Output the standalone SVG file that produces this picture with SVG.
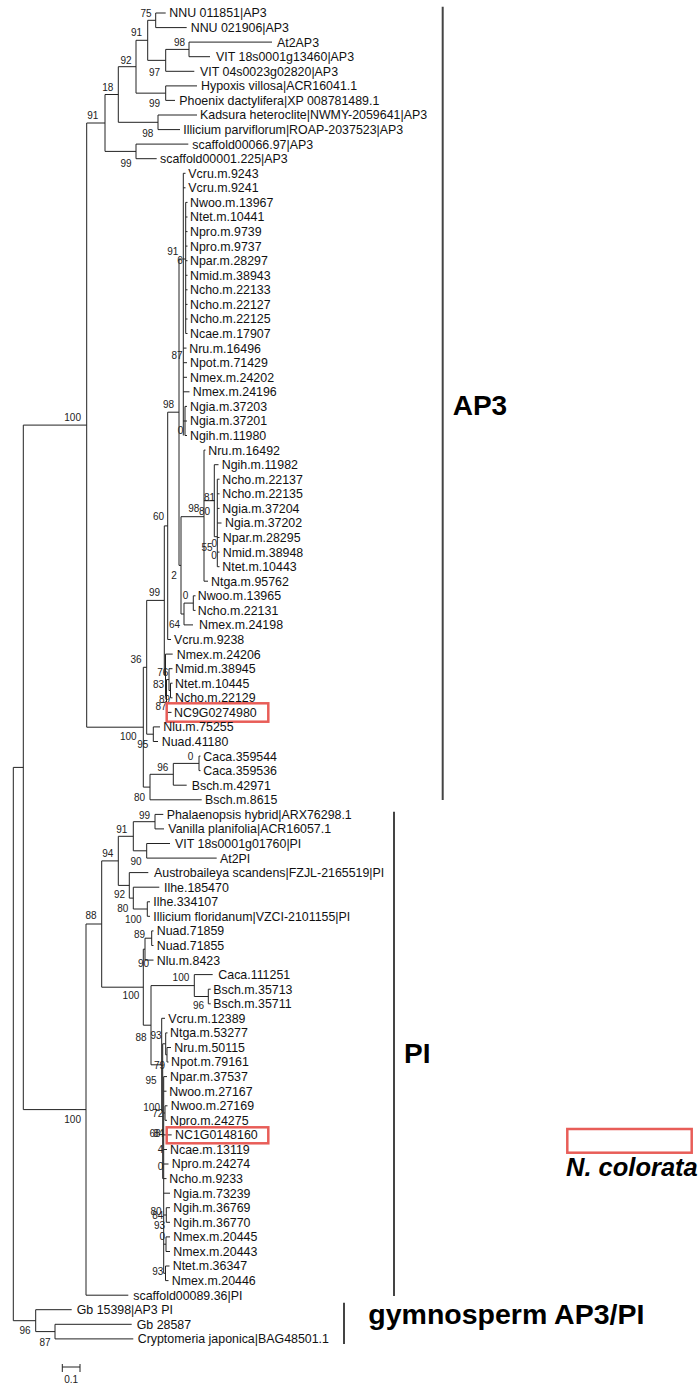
<svg xmlns="http://www.w3.org/2000/svg" width="698" height="1385" viewBox="0 0 698 1385">
<style>
.t{font-family:"Liberation Sans",Arial,sans-serif;font-size:12.4px;fill:#111}
.b{font-family:"Liberation Sans",Arial,sans-serif;font-size:10px;fill:#222;text-anchor:end}
.br{fill:none;stroke:#222;stroke-width:1}
.bar{stroke:#444;stroke-width:2}
.cl{font-family:"Liberation Sans",Arial,sans-serif;font-size:28px;font-weight:bold;fill:#000}
.hl{fill:none;stroke:#e85d58;stroke-width:2.5}
</style>
<rect width="698" height="1385" fill="#fff"/>
<g id="connectors">
<path class="br" d="M147.7 20.3H155.7M155.7 13V27.6M155.7 13H165.7M155.7 27.6H186.7M165.7 49.4H189M189 42.1V56.7M189 42.1H272M189 56.7H210M147.7 60.35H165.7M165.7 49.4V71.3M165.7 71.3H194.3M136 40.3H147.7M147.7 20.3V60.35M136 93.15H165.7M165.7 85.9V100.4M165.7 85.9H197M165.7 100.4H175M118.3 66.7H136M136 40.3V93.15M118.3 122.3H158M158 115V129.6M158 115H197M158 129.6H180M105 94.5H118.3M118.3 66.7V122.3M105 151.4H136M136 144.1V158.7M136 144.1H188.3M136 158.7H156.7M86.7 123H105M105 94.5V151.4M23.3 425.1H86.7M86.7 123V727.2"/>
<path class="br" d="M183.3 173.3V435.5M183.3 173.3H185.5M183.3 187.8H185.5M179 259H185.7M185.7 202.4V333.5M185.7 202.4H187.5M185.7 217H187.5M185.7 231.6H187.5M185.7 246.1H187.5M185.7 260.7H187.5M185.7 275.3H187.5M185.7 289.8H187.5M185.7 304.4H187.5M185.7 319H187.5M185.7 333.5H187.5M183.3 348.1H186.5M183.3 362.7H187M183.3 377.3H187M183.3 391.8H189.5M183.3 421H185M185 406.4V435.5M185 406.4H187M185 421H187M185 435.5H187"/>
<path class="br" d="M167.7 412.2H179M179 259V565.4M179 565.4H181M181 516.7V614M181 516.7H204M204 450.1V581.2M204 450.1H205.5M204 581.2H208M204 500.7H214.3M214.3 464.7V536.7M214.3 464.7H218.5M214.3 536.7H217.3M217.3 479.2V566.7M217.3 479.2H219.5M217.3 493.8H219.5M217.3 508.4H219.5M217.3 523H221.5M217.3 537.5H219.5M217.3 552.1H219.5M217.3 566.7H219.5M181 614H184M184 603.1V624.9M184 624.9H193M184 603.1H193.3M193.3 595.8V610.4M193.3 595.8H195.5M193.3 610.4H195.5M164.3 525.9H167.7M167.7 412.2V639.5M167.7 639.5H171M146.7 600.4H164.3M164.3 525.9V675M164.3 675H165.5M165.5 654.1V696M165.5 654.1H172.7M165.5 696H166.5M166.5 679.6V712.4M166.5 712.4H171.5M166.5 679.6H169M169 668.7V690.5M169 668.7H172.5M169 690.5H170.5M170.5 683.2V697.8M170.5 683.2H172.5M170.5 697.8H172.5M146.7 734.2H153.3M153.3 726.9V741.5M153.3 726.9H160M153.3 741.5H158M143.3 667.3H146.7M146.7 600.4V734.2M173.3 763.4H199M199 756.1V770.6M199 756.1H200.5M199 770.6H200.5M150 774.3H173.3M173.3 763.4V785.2M173.3 785.2H186.7M143.3 787.1H150M150 774.3V799.8M150 799.8H201.7M86.7 727.2H143.3M143.3 667.3V787.1"/>
<path class="br" d="M133.3 821.7H155M155 814.4V828.9M155 814.4H163.3M155 828.9H164M133.3 850.8H146.7M146.7 843.5V858.1M146.7 843.5H170M146.7 858.1H216.7M118.3 836.3H133.3M133.3 821.7V850.8M133.3 909H147.3M147.3 901.8V916.3M147.3 901.8H150M147.3 916.3H150M129.3 898.1H133.3M133.3 887.2V909M133.3 887.2H159.3M118.3 885.4H129.3M129.3 872.6V898.1M129.3 872.6H148.3M101.7 860.9H118.3M118.3 836.3V885.4M145 938.2H151.7M151.7 930.9V945.5M151.7 930.9H153.5M151.7 945.5H153.5M143.3 949.2H145M145 938.2V960.1M145 960.1H153.5M194.3 996.5H208.3M208.3 989.2V1003.8M208.3 989.2H210.7M208.3 1003.8H210.7M151 985.6H194.3M194.3 974.6V996.5M194.3 974.6H212.7"/>
<path class="br" d="M165.7 1054.8H167M167 1047.5V1062M167 1047.5H171M167 1062H168.5M162.7 1043.8H165.7M165.7 1032.9V1054.8M165.7 1032.9H167.5M162.7 1178.6H163.7M163.7 1076.6V1273.3M163.7 1076.6H167M163.7 1091.2H166.5M163.7 1113H165M165 1105.8V1120.3M165 1105.8H167.5M165 1120.3H167M163.7 1134.9H171.7M163.7 1149.5H167M163.7 1164H168.5M163.7 1178.6H166.5M163.7 1193.2H170M163.7 1215H166.3M166.3 1207.7V1222.3M166.3 1207.7H170M166.3 1222.3H170M163.7 1244.2H166M166 1236.9V1251.5M166 1236.9H170M166 1251.5H170M163.7 1273.3H165.5M165.5 1266V1280.6M165.5 1266H169.5M165.5 1280.6H168.5M161.7 1111.2H162.7M162.7 1043.8V1178.6M151 1064.8H161.7M161.7 1018.3V1111.2M161.7 1018.3H165M143.3 1025.2H151M151 985.6V1064.8M101.7 987.2H143.3M143.3 949.2V1025.2M86 924H101.7M101.7 860.9V987.2M23.3 1109.6H86M86 924V1295.2M86 1295.2H128.3M13.3 767.4H23.3M23.3 425.1V1109.6M13.3 1320.7H35.7M35.7 1309.7V1331.6M35.7 1309.7H71.7M35.7 1331.6H55M55 1324.3V1338.9M55 1324.3H131.7M55 1338.9H133.3M13.3 767.4V1320.7"/>
</g>
<g id="bootstrap">
<text class="b" x="151.7" y="16.9">75</text><text class="b" x="142" y="35.9">91</text><text class="b" x="185" y="45.6">98</text><text class="b" x="160" y="75.6">97</text><text class="b" x="131.7" y="63.6">92</text><text class="b" x="160" y="106.9">99</text><text class="b" x="113.3" y="90.9">18</text><text class="b" x="153.3" y="136.9">98</text><text class="b" x="98.3" y="118.6">91</text><text class="b" x="131.7" y="166.9">99</text><text class="b" x="81" y="420.9">100</text>
<text class="b" x="178.3" y="254.6">91</text><text class="b" x="182.7" y="263.6">6</text><text class="b" x="182.7" y="358.6">87</text><text class="b" x="174" y="407.9">98</text><text class="b" x="183.3" y="434.3">0</text><text class="b" x="215" y="501.3">81</text><text class="b" x="199.3" y="511.9">98</text><text class="b" x="210" y="515.3">80</text><text class="b" x="164" y="520.3">60</text><text class="b" x="217" y="546.9">0</text><text class="b" x="212.7" y="550.9">55</text><text class="b" x="216.7" y="558.6">0</text><text class="b" x="176.7" y="579.3">2</text><text class="b" x="160" y="595.9">99</text><text class="b" x="188.3" y="598.6">0</text><text class="b" x="180" y="627.9">64</text><text class="b" x="141.7" y="662.6">36</text><text class="b" x="168.3" y="675.9">76</text><text class="b" x="164" y="687.6">83</text><text class="b" x="170" y="702.9">89</text><text class="b" x="166.7" y="709.6">87</text><text class="b" x="136.7" y="740.3">100</text><text class="b" x="148.3" y="747.9">95</text><text class="b" x="193.3" y="759.6">0</text><text class="b" x="168.3" y="770.9">96</text><text class="b" x="145" y="800.9">80</text>
<text class="b" x="150" y="818.6">99</text><text class="b" x="127.3" y="832.6">91</text><text class="b" x="113.3" y="856.9">94</text><text class="b" x="141.7" y="864.6">90</text><text class="b" x="125" y="897.9">92</text><text class="b" x="128.3" y="911.9">80</text><text class="b" x="141.7" y="922.9">100</text><text class="b" x="96.7" y="918.6">88</text><text class="b" x="145" y="937.6">89</text><text class="b" x="149" y="966.9">90</text><text class="b" x="189.3" y="980.9">100</text><text class="b" x="139.3" y="999.3">100</text><text class="b" x="204" y="1009.3">96</text><text class="b" x="146.7" y="1041.3">88</text><text class="b" x="161.7" y="1039.3">93</text><text class="b" x="165" y="1068.6">79</text><text class="b" x="156.7" y="1083.6">95</text><text class="b" x="160" y="1110.9">100</text><text class="b" x="163.3" y="1116.9">72</text><text class="b" x="160.5" y="1136.9">68</text><text class="b" x="164" y="1136.9">84</text><text class="b" x="81" y="1122.6">100</text><text class="b" x="163.3" y="1152.9">4</text><text class="b" x="163.3" y="1170.3">0</text><text class="b" x="161.7" y="1214.6">80</text><text class="b" x="163.3" y="1218.6">84</text><text class="b" x="165" y="1228.6">93</text><text class="b" x="165" y="1239.6">0</text><text class="b" x="163.3" y="1275.3">93</text><text class="b" x="30.7" y="1334.3">96</text><text class="b" x="50.7" y="1346.3">87</text>
</g>
<g id="n00"><text class="t" x="169.3" y="17.4">NNU 011851|AP3</text></g>
<g id="n01"><text class="t" x="190.7" y="32">NNU 021906|AP3</text></g>
<g id="n02"><text class="t" x="277" y="46.5">At2AP3</text></g>
<g id="n03"><text class="t" x="216" y="61.1">VIT 18s0001g13460|AP3</text></g>
<g id="n04"><text class="t" x="200" y="75.7">VIT 04s0023g02820|AP3</text></g>
<g id="n05"><text class="t" x="201" y="90.3">Hypoxis villosa|ACR16041.1</text></g>
<g id="n06"><text class="t" x="179.3" y="104.8">Phoenix dactylifera|XP 008781489.1</text></g>
<g id="n07"><text class="t" x="200" y="119.4">Kadsura heteroclite|NWMY-2059641|AP3</text></g>
<g id="n08"><text class="t" x="183.3" y="134">Illicium parviflorum|ROAP-2037523|AP3</text></g>
<g id="n09"><text class="t" x="192.3" y="148.5">scaffold00066.97|AP3</text></g>
<g id="n10"><text class="t" x="160" y="163.1">scaffold00001.225|AP3</text></g>
<g id="n11"><text class="t" x="188.3" y="177.7">Vcru.m.9243</text></g>
<g id="n12"><text class="t" x="188.3" y="192.2">Vcru.m.9241</text></g>
<g id="n13"><text class="t" x="190" y="206.8">Nwoo.m.13967</text></g>
<g id="n14"><text class="t" x="190" y="221.4">Ntet.m.10441</text></g>
<g id="n15"><text class="t" x="190" y="236">Npro.m.9739</text></g>
<g id="n16"><text class="t" x="190" y="250.5">Npro.m.9737</text></g>
<g id="n17"><text class="t" x="190" y="265.1">Npar.m.28297</text></g>
<g id="n18"><text class="t" x="190" y="279.7">Nmid.m.38943</text></g>
<g id="n19"><text class="t" x="190" y="294.2">Ncho.m.22133</text></g>
<g id="n20"><text class="t" x="190" y="308.8">Ncho.m.22127</text></g>
<g id="n21"><text class="t" x="190" y="323.4">Ncho.m.22125</text></g>
<g id="n22"><text class="t" x="190" y="337.9">Ncae.m.17907</text></g>
<g id="n23"><text class="t" x="189.3" y="352.5">Nru.m.16496</text></g>
<g id="n24"><text class="t" x="190" y="367.1">Npot.m.71429</text></g>
<g id="n25"><text class="t" x="190" y="381.7">Nmex.m.24202</text></g>
<g id="n26"><text class="t" x="192.7" y="396.2">Nmex.m.24196</text></g>
<g id="n27"><text class="t" x="190" y="410.8">Ngia.m.37203</text></g>
<g id="n28"><text class="t" x="190" y="425.4">Ngia.m.37201</text></g>
<g id="n29"><text class="t" x="190" y="439.9">Ngih.m.11980</text></g>
<g id="n30"><text class="t" x="208.3" y="454.5">Nru.m.16492</text></g>
<g id="n31"><text class="t" x="221.7" y="469.1">Ngih.m.11982</text></g>
<g id="n32"><text class="t" x="222.3" y="483.6">Ncho.m.22137</text></g>
<g id="n33"><text class="t" x="222.3" y="498.2">Ncho.m.22135</text></g>
<g id="n34"><text class="t" x="222.3" y="512.8">Ngia.m.37204</text></g>
<g id="n35"><text class="t" x="225" y="527.4">Ngia.m.37202</text></g>
<g id="n36"><text class="t" x="222.7" y="541.9">Npar.m.28295</text></g>
<g id="n37"><text class="t" x="222.7" y="556.5">Nmid.m.38948</text></g>
<g id="n38"><text class="t" x="222.3" y="571.1">Ntet.m.10443</text></g>
<g id="n39"><text class="t" x="211" y="585.6">Ntga.m.95762</text></g>
<g id="n40"><text class="t" x="197.7" y="600.2">Nwoo.m.13965</text></g>
<g id="n41"><text class="t" x="197.7" y="614.8">Ncho.m.22131</text></g>
<g id="n42"><text class="t" x="199" y="629.3">Nmex.m.24198</text></g>
<g id="n43"><text class="t" x="174" y="643.9">Vcru.m.9238</text></g>
<g id="n44"><text class="t" x="176.7" y="658.5">Nmex.m.24206</text></g>
<g id="n45"><text class="t" x="175" y="673.1">Nmid.m.38945</text></g>
<g id="n46"><text class="t" x="175" y="687.6">Ntet.m.10445</text></g>
<g id="n47"><text class="t" x="175" y="702.2">Ncho.m.22129</text></g>
<g id="n48"><rect class="hl" x="166.7" y="703.3" width="101.6" height="18.4"/><text class="t" x="174" y="716.8">NC9G0274980</text></g>
<g id="n49"><text class="t" x="163.3" y="731.3">Nlu.m.75255</text></g>
<g id="n50"><text class="t" x="161.7" y="745.9">Nuad.41180</text></g>
<g id="n51"><text class="t" x="203.3" y="760.5">Caca.359544</text></g>
<g id="n52"><text class="t" x="203.3" y="775">Caca.359536</text></g>
<g id="n53"><text class="t" x="191.7" y="789.6">Bsch.m.42971</text></g>
<g id="n54"><text class="t" x="205" y="804.2">Bsch.m.8615</text></g>
<g id="n55"><text class="t" x="166.7" y="818.8">Phalaenopsis hybrid|ARX76298.1</text></g>
<g id="n56"><text class="t" x="168.3" y="833.3">Vanilla planifolia|ACR16057.1</text></g>
<g id="n57"><text class="t" x="175" y="847.9">VIT 18s0001g01760|PI</text></g>
<g id="n58"><text class="t" x="220" y="862.5">At2PI</text></g>
<g id="n59"><text class="t" x="154" y="877">Austrobaileya scandens|FZJL-2165519|PI</text></g>
<g id="n60"><text class="t" x="164" y="891.6">Ilhe.185470</text></g>
<g id="n61"><text class="t" x="153.3" y="906.2">Ilhe.334107</text></g>
<g id="n62"><text class="t" x="153.3" y="920.7">Illicium floridanum|VZCI-2101155|PI</text></g>
<g id="n63"><text class="t" x="156.7" y="935.3">Nuad.71859</text></g>
<g id="n64"><text class="t" x="156.7" y="949.9">Nuad.71855</text></g>
<g id="n65"><text class="t" x="156.7" y="964.5">Nlu.m.8423</text></g>
<g id="n66"><text class="t" x="218.3" y="979">Caca.111251</text></g>
<g id="n67"><text class="t" x="213.3" y="993.6">Bsch.m.35713</text></g>
<g id="n68"><text class="t" x="213.3" y="1008.2">Bsch.m.35711</text></g>
<g id="n69"><text class="t" x="168.3" y="1022.7">Vcru.m.12389</text></g>
<g id="n70"><text class="t" x="170" y="1037.3">Ntga.m.53277</text></g>
<g id="n71"><text class="t" x="174.3" y="1051.9">Nru.m.50115</text></g>
<g id="n72"><text class="t" x="171" y="1066.4">Npot.m.79161</text></g>
<g id="n73"><text class="t" x="170" y="1081">Npar.m.37537</text></g>
<g id="n74"><text class="t" x="169.3" y="1095.6">Nwoo.m.27167</text></g>
<g id="n75"><text class="t" x="170.7" y="1110.2">Nwoo.m.27169</text></g>
<g id="n76"><text class="t" x="170" y="1124.7">Npro.m.24275</text></g>
<g id="n77"><rect class="hl" x="166.7" y="1127.3" width="101.6" height="16"/><text class="t" x="175" y="1139.3">NC1G0148160</text></g>
<g id="n78"><text class="t" x="170" y="1153.9">Ncae.m.13119</text></g>
<g id="n79"><text class="t" x="171.7" y="1168.4">Npro.m.24274</text></g>
<g id="n80"><text class="t" x="169.3" y="1183">Ncho.m.9233</text></g>
<g id="n81"><text class="t" x="173.3" y="1197.6">Ngia.m.73239</text></g>
<g id="n82"><text class="t" x="173.3" y="1212.1">Ngih.m.36769</text></g>
<g id="n83"><text class="t" x="173.3" y="1226.7">Ngih.m.36770</text></g>
<g id="n84"><text class="t" x="173.3" y="1241.3">Nmex.m.20445</text></g>
<g id="n85"><text class="t" x="173.3" y="1255.9">Nmex.m.20443</text></g>
<g id="n86"><text class="t" x="172.7" y="1270.4">Ntet.m.36347</text></g>
<g id="n87"><text class="t" x="171.7" y="1285">Nmex.m.20446</text></g>
<g id="n88"><text class="t" x="133.3" y="1299.6">scaffold00089.36|PI</text></g>
<g id="n89"><text class="t" x="76.7" y="1314.1">Gb 15398|AP3 PI</text></g>
<g id="n90"><text class="t" x="136.7" y="1328.7">Gb 28587</text></g>
<g id="n91"><text class="t" x="137.7" y="1343.3">Cryptomeria japonica|BAG48501.1</text></g>
<g id="clade-AP3"><line class="bar" x1="442.7" y1="6.7" x2="442.7" y2="800"/><text class="cl" x="452.7" y="415">AP3</text></g>
<g id="clade-PI"><line class="bar" x1="394" y1="811.7" x2="394" y2="1296"/><text class="cl" x="404" y="1063">PI</text></g>
<g id="clade-gymno"><line class="bar" x1="344" y1="1302.7" x2="344" y2="1344"/><text class="cl" x="368.3" y="1324" style="font-size:28.5px">gymnosperm AP3/PI</text></g>
<g id="legend"><rect class="hl" x="567.3" y="1129" width="124.4" height="23.7"/><text x="566" y="1175.7" style="font-family:'Liberation Sans',Arial,sans-serif;font-size:25.5px;font-weight:bold;font-style:italic;fill:#000">N. colorata</text></g>
<g id="scale"><path class="br" d="M62.3 1367H80M62.3 1364V1372M80 1364V1372"/><text x="71.2" y="1383" style="font-family:'Liberation Sans',Arial,sans-serif;font-size:10px;fill:#222;text-anchor:middle">0.1</text></g>
</svg>
